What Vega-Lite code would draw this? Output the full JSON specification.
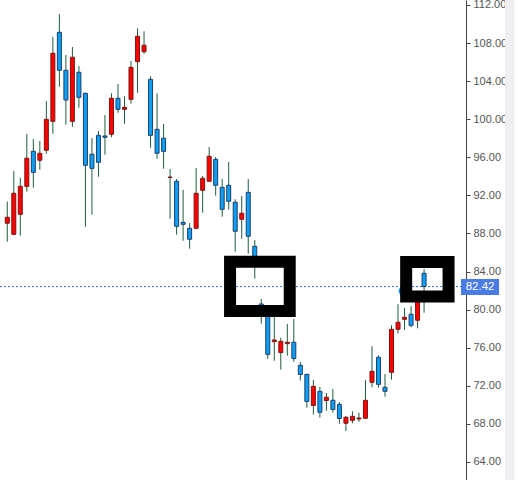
{
  "$schema": "https://vega.github.io/schema/vega-lite/v6.json",
  "width": 466,
  "height": 480,
  "autosize": {"type": "none"},
  "padding": {"left": 0, "top": 0, "right": 54, "bottom": 0},
  "background": "white",
  "config": {
    "view": {"stroke": null},
    "axisY": {"orient": "right", "values": [64,68,72,76,80,84,88,92,96,100,104,108,112], "format": ".2f", "title": null, "grid": false, "tickSize": 4, "tickColor": "#444", "domainColor": "#444", "labelColor": "#555", "labelFontSize": 11, "labelFont": "Liberation Sans", "labelPadding": 3, "labelOverlap": false, "labelBound": false, "labelFlush": false, "tickCount": 13}
  },
  "datasets": {
    "candles": [
      {"i":0,"o":89.07,"h":91.34,"l":87.13,"c":89.70},
      {"i":1,"o":87.91,"h":94.56,"l":87.80,"c":92.22},
      {"i":2,"o":90.01,"h":93.86,"l":87.76,"c":92.95},
      {"i":3,"o":92.95,"h":98.45,"l":92.39,"c":95.90},
      {"i":4,"o":96.63,"h":97.92,"l":92.81,"c":94.42},
      {"i":5,"o":95.69,"h":97.71,"l":94.70,"c":96.42},
      {"i":6,"o":96.74,"h":101.91,"l":96.38,"c":99.99},
      {"i":7,"o":99.78,"h":108.64,"l":98.48,"c":106.93},
      {"i":8,"o":109.13,"h":111.05,"l":103.42,"c":105.14},
      {"i":9,"o":105.14,"h":106.75,"l":99.43,"c":102.02},
      {"i":10,"o":99.78,"h":107.59,"l":99.21,"c":106.51},
      {"i":11,"o":104.93,"h":105.59,"l":101.21,"c":102.30},
      {"i":12,"o":102.72,"h":102.80,"l":88.71,"c":95.16},
      {"i":13,"o":96.32,"h":98.03,"l":89.97,"c":94.84},
      {"i":14,"o":98.31,"h":98.76,"l":93.96,"c":95.48},
      {"i":15,"o":98.24,"h":100.44,"l":96.27,"c":98.10},
      {"i":16,"o":98.42,"h":102.72,"l":98.10,"c":102.20},
      {"i":17,"o":102.20,"h":103.70,"l":100.69,"c":101.04},
      {"i":18,"o":101.04,"h":102.41,"l":99.53,"c":101.25},
      {"i":19,"o":102.09,"h":106.12,"l":101.63,"c":105.46},
      {"i":20,"o":106.04,"h":109.55,"l":102.79,"c":108.71},
      {"i":21,"o":107.09,"h":109.24,"l":106.88,"c":107.77},
      {"i":22,"o":104.19,"h":104.51,"l":97.01,"c":98.31},
      {"i":23,"o":98.94,"h":102.72,"l":95.85,"c":96.42},
      {"i":24,"o":98.00,"h":99.50,"l":94.80,"c":96.63},
      {"i":25,"o":93.88,"h":94.77,"l":89.55,"c":93.92},
      {"i":26,"o":93.48,"h":93.72,"l":87.87,"c":88.75},
      {"i":27,"o":89.17,"h":92.57,"l":87.24,"c":88.96},
      {"i":28,"o":88.54,"h":89.10,"l":86.40,"c":87.39},
      {"i":29,"o":88.54,"h":94.88,"l":88.54,"c":92.22},
      {"i":30,"o":92.53,"h":94.04,"l":90.18,"c":93.79},
      {"i":31,"o":93.48,"h":97.08,"l":93.48,"c":96.11},
      {"i":32,"o":95.79,"h":96.03,"l":91.97,"c":93.06},
      {"i":33,"o":92.85,"h":93.72,"l":89.76,"c":90.54},
      {"i":34,"o":93.06,"h":95.51,"l":90.50,"c":91.38},
      {"i":35,"o":91.27,"h":91.59,"l":86.08,"c":88.23},
      {"i":36,"o":89.49,"h":91.93,"l":87.45,"c":90.12},
      {"i":37,"o":92.32,"h":93.72,"l":85.87,"c":87.70},
      {"i":38,"o":86.65,"h":87.31,"l":83.25,"c":85.00},
      {"i":39,"o":80.59,"h":81.11,"l":78.52,"c":79.75},
      {"i":40,"o":79.96,"h":80.20,"l":74.84,"c":75.30},
      {"i":41,"o":76.63,"h":79.64,"l":74.63,"c":76.81},
      {"i":42,"o":75.49,"h":77.05,"l":73.69,"c":76.67},
      {"i":43,"o":76.42,"h":78.49,"l":75.16,"c":76.57},
      {"i":44,"o":76.57,"h":79.01,"l":74.53,"c":74.86},
      {"i":45,"o":74.15,"h":74.50,"l":72.55,"c":73.18},
      {"i":46,"o":73.20,"h":73.25,"l":69.69,"c":70.35},
      {"i":47,"o":69.93,"h":72.60,"l":68.98,"c":71.94},
      {"i":48,"o":71.42,"h":71.87,"l":68.64,"c":69.21},
      {"i":49,"o":70.45,"h":71.24,"l":69.38,"c":70.79},
      {"i":50,"o":70.48,"h":71.66,"l":69.19,"c":69.51},
      {"i":51,"o":70.05,"h":70.29,"l":68.01,"c":68.56},
      {"i":52,"o":68.06,"h":68.82,"l":67.25,"c":68.69},
      {"i":53,"o":68.37,"h":69.32,"l":68.06,"c":68.79},
      {"i":54,"o":68.51,"h":69.17,"l":68.22,"c":68.61},
      {"i":55,"o":68.58,"h":72.60,"l":68.55,"c":70.47},
      {"i":56,"o":72.36,"h":76.15,"l":71.84,"c":73.52},
      {"i":57,"o":74.99,"h":75.20,"l":71.80,"c":72.15},
      {"i":58,"o":71.84,"h":73.24,"l":70.85,"c":71.42},
      {"i":59,"o":73.41,"h":78.35,"l":72.64,"c":77.93},
      {"i":60,"o":77.93,"h":80.56,"l":77.49,"c":78.67},
      {"i":61,"o":78.98,"h":80.17,"l":77.86,"c":79.19},
      {"i":62,"o":79.51,"h":80.35,"l":78.14,"c":78.35},
      {"i":63,"o":78.88,"h":81.60,"l":78.04,"c":81.43},
      {"i":64,"o":83.81,"h":84.27,"l":79.67,"c":82.42}
    ],
    "boxes": [
      {"x1":34.21,"x2":43.37,"y1":85.02,"y2":79.85},
      {"x1":61.25,"x2":67.76,"y1":85.00,"y2":81.38}
    ],
    "marker": [
      {"i":60.91,"p":81.95}
    ],
    "last": [
      {"p":82.42,"t":"82.42","lo":81.53,"hi":83.22,"a":69.67,"b":75.52,"m":72.6}
    ],
    "strip": [
      {"a":76.43,"b":77.9,"lo":62.10,"hi":112.525}
    ]
  },
  "layer": [
    {
      "data": {"name": "strip"},
      "mark": {"type": "rect", "fill": "#eeeef3", "clip": false},
      "encoding": {
        "x": {"field": "a", "type": "quantitative", "scale": {"domain": [-0.35, 69.67], "nice": false, "zero": false}, "axis": null},
        "x2": {"field": "b"},
        "y": {"field": "hi", "type": "quantitative", "title": null,
          "scale": {"domain": [62.10, 112.525], "nice": false, "zero": false},
          "axis": {"labelOverlap": false, "values": [64,68,72,76,80,84,88,92,96,100,104,108,112]}},
        "y2": {"field": "lo"}
      }
    },
    {
      "data": {"name": "last"},
      "mark": {"type": "rule", "color": "#2f6be0", "strokeDash": [2, 2], "strokeWidth": 1},
      "encoding": {
        "y": {"field": "p", "type": "quantitative", "title": null,
          "axis": {"labelOverlap": false, "values": [64,68,72,76,80,84,88,92,96,100,104,108,112]}
        }
      }
    },
    {
      "data": {"name": "candles"},
      "mark": {"type": "rule", "color": "#1d5e3a", "strokeWidth": 1},
      "encoding": {
        "x": {"field": "i", "type": "quantitative"},
        "y": {"field": "l", "type": "quantitative", "title": null, "axis": {"labelOverlap": false, "values": [64,68,72,76,80,84,88,92,96,100,104,108,112]}},
        "y2": {"field": "h"}
      }
    },
    {
      "data": {"name": "candles"},
      "mark": {"type": "bar", "width": 4, "strokeWidth": 1},
      "encoding": {
        "x": {"field": "i", "type": "quantitative"},
        "y": {"field": "o", "type": "quantitative", "title": null, "axis": {"labelOverlap": false, "values": [64,68,72,76,80,84,88,92,96,100,104,108,112]}},
        "y2": {"field": "c"},
        "fill": {"condition": {"test": "datum.c >= datum.o", "value": "#ff0000"}, "value": "#0aa0f5"},
        "stroke": {"condition": {"test": "datum.c >= datum.o", "value": "#7a1515"}, "value": "#1f3d6b"}
      }
    },
    {
      "data": {"name": "marker"},
      "mark": {"type": "point", "filled": true, "size": 115, "color": "#1e90ff", "opacity": 1},
      "encoding": {
        "x": {"field": "i", "type": "quantitative"},
        "y": {"field": "p", "type": "quantitative", "title": null, "axis": {"labelOverlap": false, "values": [64,68,72,76,80,84,88,92,96,100,104,108,112]}}
      }
    },
    {
      "data": {"name": "boxes"},
      "mark": {"type": "rect", "fill": null, "fillOpacity": 0, "stroke": "black", "strokeWidth": 12, "strokeJoin": "miter"},
      "encoding": {
        "x": {"field": "x1", "type": "quantitative"},
        "x2": {"field": "x2"},
        "y": {"field": "y1", "type": "quantitative", "title": null, "axis": {"labelOverlap": false, "values": [64,68,72,76,80,84,88,92,96,100,104,108,112]}},
        "y2": {"field": "y2"}
      }
    },
    {
      "data": {"name": "last"},
      "mark": {"type": "rect", "fill": "#4a7be3", "opacity": 1, "fillOpacity": 1, "clip": false},
      "encoding": {
        "x": {"field": "a", "type": "quantitative"},
        "x2": {"field": "b"},
        "y": {"field": "hi", "type": "quantitative", "title": null, "axis": {"labelOverlap": false, "values": [64,68,72,76,80,84,88,92,96,100,104,108,112]}},
        "y2": {"field": "lo"}
      }
    },
    {
      "data": {"name": "last"},
      "mark": {"type": "text", "color": "white", "fontSize": 11.5, "font": "Liberation Sans", "align": "center", "baseline": "middle", "clip": false},
      "encoding": {
        "x": {"field": "m", "type": "quantitative"},
        "y": {"field": "p", "type": "quantitative", "title": null, "axis": {"labelOverlap": false, "values": [64,68,72,76,80,84,88,92,96,100,104,108,112]}},
        "text": {"field": "t"}
      }
    }
  ]
}
